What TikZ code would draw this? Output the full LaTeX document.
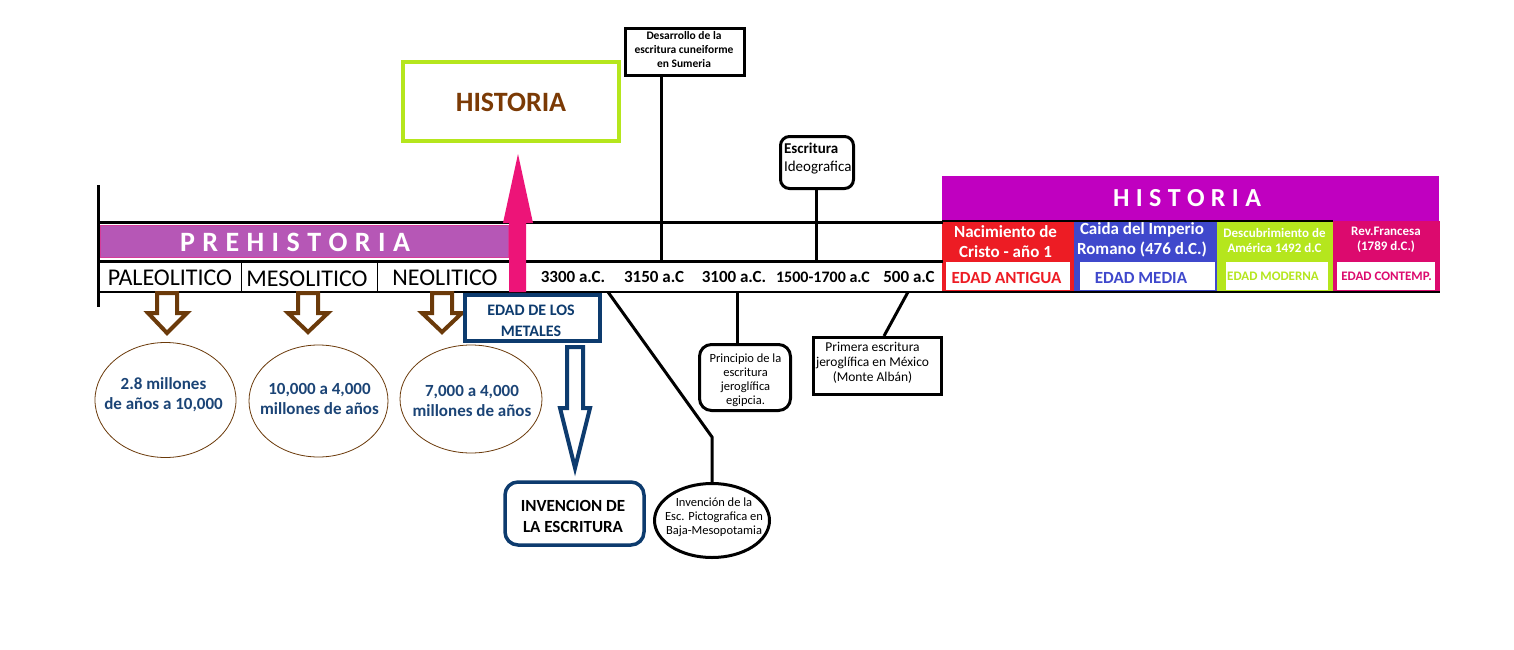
\documentclass[tikz,border=0pt]{standalone}
\usepackage{fontspec}
\setmainfont{Carlito}
\usetikzlibrary{shapes.geometric}
\definecolor{prepurple}{HTML}{B657B6}
\definecolor{prepink}{HTML}{D63C9A}
\definecolor{hotpink}{HTML}{ED1478}
\definecolor{lime}{HTML}{B5E61D}
\definecolor{histbrown}{HTML}{7B3A05}
\definecolor{magenta2}{HTML}{C000C0}
\definecolor{redc}{HTML}{ED1C24}
\definecolor{bluec}{HTML}{3F48CC}
\definecolor{crim}{HTML}{DC0A6E}
\definecolor{navy}{HTML}{0D3B6E}
\definecolor{ovaltext}{HTML}{1B4476}
\definecolor{arrbrown}{HTML}{6B3A0A}
\tikzset{
  every node/.style={inner sep=0pt, outer sep=0pt, align=center},
  tline/.style={line width=3pt},
  thinline/.style={line width=1pt},
  era/.style={font=\fontsize{24}{28}\selectfont},
  datelbl/.style={font=\bfseries\fontsize{17}{20}\selectfont},
  coltext/.style={font=\bfseries\fontsize{17}{20}\selectfont, text=white},
  coltextsm/.style={font=\bfseries\fontsize{13}{15.5}\selectfont, text=white},
  ovaltxt/.style={font=\bfseries\fontsize{17}{20}\selectfont, text=ovaltext},
  brownarrow/.style={draw=arrbrown, line width=4pt, fill=white},
  oval/.style={ellipse, draw=arrbrown, line width=0.8pt},
}
\begin{document}
\begin{tikzpicture}[x=1pt,y=-1pt]
\useasboundingbox (0,0) rectangle (1514,650);
\fill[white] (0,0) rectangle (1514,650);

% ---------- right HISTORIA block ----------
\node[fill=magenta2, minimum width=497pt, minimum height=45pt] (hist2) at (1190.5,198.5) {};
\node[font=\bfseries\fontsize{26}{30}\selectfont, text=white] (hist2t) at (1187,198) {\makebox[148pt][s]{H I S T O R I A}};
\node[fill=redc, minimum width=132pt, minimum height=71pt] (colA) at (1008,256.5) {};
\node[fill=bluec, minimum width=143pt, minimum height=71pt] (colB) at (1145.5,256.5) {};
\node[fill=lime, minimum width=116pt, minimum height=71pt] (colC) at (1275,256.5) {};
\node[fill=crim, minimum width=107pt, minimum height=71pt] (colD) at (1386.5,256.5) {};
\node[fill=white, minimum width=124pt, minimum height=28pt] (wA) at (1008,276) {};
\node[fill=white, minimum width=135pt, minimum height=28pt] (wB) at (1147.5,276) {};
\node[fill=white, minimum width=102pt, minimum height=28pt] (wC) at (1277,276) {};
\node[fill=white, minimum width=98pt, minimum height=28pt] (wD) at (1386,276) {};
\node[coltext] (tA) at (1005.5,242) {Nacimiento de\\Cristo - año 1};
\node[coltext] (tB) at (1142,240) {Caida del Imperio\\Romano (476 d.C.)};
\node[coltextsm] (tC) at (1274.5,240.5) {Descubrimiento de\\América 1492 d.C};
\node[coltextsm] (tD) at (1386,240) {Rev.Francesa\\(1789 d.C.)};
\node[font=\bfseries\fontsize{17}{20}\selectfont, text=redc] (eA) at (1006.5,278) {EDAD ANTIGUA};
\node[font=\bfseries\fontsize{17}{20}\selectfont, text=bluec] (eB) at (1141,278) {EDAD MEDIA};
\node[font=\bfseries\fontsize{13}{15}\selectfont, text=lime] (eC) at (1273,276) {EDAD MODERNA};
\node[font=\bfseries\fontsize{13}{15}\selectfont, text=crim] (eD) at (1386.5,276) {EDAD CONTEMP.};
\draw[line width=1.5pt] (colA.north west) -- (colC.north east);
\draw[line width=1.5pt] (colA.south west) -- (colD.south east);

% ---------- timeline frame ----------
\coordinate (v0) at (98,185);
\coordinate (v1) at (98,307);
\coordinate (h1a) at (98,222);
\coordinate (h1b) at (943,222);
\coordinate (h2a) at (98,261);
\coordinate (h2b) at (943,261);
\coordinate (h3a) at (98,292);
\coordinate (h3b) at (943,292);
\draw[tline] (v0) -- (v1);
\draw[tline] (h1a) -- (h1b);
\draw[tline] (h2a) -- (h2b);
\draw[line width=1.5pt] (h3a) -- (h3b);

% PREHISTORIA bar
\node[fill=prepurple, draw=prepink, line width=1pt, minimum width=408pt, minimum height=32pt] (pre) at (304.5,241.5) {};
\node[font=\bfseries\fontsize{28}{30}\selectfont, text=white] (pret) at (295,242) {\makebox[230pt][s]{P R E H I S T O R I A}};

% era cells
\coordinate (d1a) at (241,262); \coordinate (d1b) at (241,292);
\coordinate (d2a) at (377,262); \coordinate (d2b) at (377,292);
\draw[thinline] (d1a) -- (d1b);
\draw[thinline] (d2a) -- (d2b);
\node[era] (pal) at (170,278) {PALEOLITICO};
\node[era] (mes) at (307,279) {MESOLITICO};
\node[era] (neo) at (445,278) {NEOLITICO};

% dates
\node[datelbl] (d3300) at (573,277) {3300 a.C.};
\node[datelbl] (d3150) at (654,277) {3150 a.C};
\node[datelbl] (d3100) at (734,277) {3100 a.C.};
\node[font=\bfseries\fontsize{16}{20}\selectfont] (d1500) at (823,277) {1500-1700 a.C};
\node[datelbl] (d500) at (909,277) {500 a.C};

% pink arrow
\fill[hotpink] (509,292) -- (509,223) -- (503,223) -- (518,154) -- (533,223) -- (526,223) -- (526,292) -- cycle;

% HISTORIA green box
\node[draw=lime, line width=4pt, minimum width=216pt, minimum height=79pt] (hist1) at (511,101.5) {};
\node[font=\bfseries\fontsize{28}{32}\selectfont, text=histbrown] (hist1t) at (511,102) {HISTORIA};

% Desarrollo box
\node[draw, line width=3pt, minimum width=119pt, minimum height=47pt] (desa) at (685,52) {};
\node[font=\bfseries\fontsize{11.5}{14}\selectfont] (desat) at (684,49.5) {Desarrollo de la\\escritura cuneiforme\\en Sumeria};
\coordinate (t3150) at (661,261);
\draw[tline] (desa.south -| t3150) -- (t3150);

% Escritura Ideografica box
\node[draw, line width=3pt, rounded corners=9pt, minimum width=73pt, minimum height=52pt] (ideo) at (817,162.5) {};
\node[anchor=west, align=left, font=\fontsize{15}{18}\selectfont] (ideot) at (784,159) {\textbf{Escritura}\\Ideografica};
\coordinate (t1500) at (816,261);
\draw[tline] (ideo.south -| t1500) -- (t1500);

% brown hollow arrows
\draw[brownarrow] (157,293) -- (177,293) -- (177,313) -- (187,313) -- (167,333) -- (148,313) -- (157,313) -- cycle;
\draw[brownarrow] (298,293) -- (318,293) -- (318,313) -- (328,313) -- (308,332) -- (288,313) -- (298,313) -- cycle;
\draw[brownarrow] (432,293) -- (452,293) -- (452,313) -- (462,313) -- (442,332) -- (422,313) -- (432,313) -- cycle;

% ovals
\node[oval, minimum width=141pt, minimum height=115pt] (o1) at (165.5,400) {};
\node[ovaltxt] (o1t) at (163.5,395) {2.8 millones\\de años a 10,000};
\node[oval, minimum width=139pt, minimum height=112pt] (o2) at (318.5,401) {};
\node[ovaltxt] (o2t) at (319.5,399) {10,000 a 4,000\\millones de años};
\node[oval, minimum width=142pt, minimum height=108pt] (o3) at (471,399) {};
\node[ovaltxt] (o3t) at (472,400.5) {7,000 a 4,000\\millones de años};

% Edad de los metales
\node[draw=navy, line width=4pt, fill=white, minimum width=135pt, minimum height=46pt] (meta) at (532.5,318) {};
\node[font=\bfseries\fontsize{16}{21}\selectfont, text=navy] (metat) at (531,320.5) {EDAD DE LOS\\METALES};

% navy hollow arrow
\draw[draw=navy, line width=4pt, fill=white] (567,347) -- (583,347) -- (583,408) -- (590,408) -- (575,468) -- (560,408) -- (567,408) -- cycle;

% Invencion de la escritura
\node[draw=navy, line width=3.5pt, rounded corners=13pt, minimum width=139pt, minimum height=63pt] (inv) at (574.5,513.5) {};
\node[font=\bfseries\fontsize{17}{21}\selectfont] (invt) at (573,516.5) {INVENCION DE\\LA ESCRITURA};

% Pictografica
\node[ellipse, draw, line width=3pt, minimum width=115pt, minimum height=74pt] (pict) at (712,520.5) {};
\node[font=\fontsize{12.5}{14}\selectfont] (pictt) at (714,517) {Invención de la\\Esc. Pictografica en\\Baja-Mesopotamia};
\coordinate (t3300) at (608,292);
\coordinate (bend) at (712,437);
\draw[tline] (t3300) -- (bend) -- (pict.north);

% Principio jeroglifica egipcia
\node[draw, line width=3pt, rounded corners=12pt, minimum width=91pt, minimum height=66pt] (egip) at (745,377.5) {};
\node[font=\fontsize{12.5}{14}\selectfont] (egipt) at (745.5,380) {Principio de la\\escritura\\jeroglífica\\egipcia.};
\coordinate (t3100) at (737,292);
\draw[tline] (t3100) -- (egip.north -| t3100);

% Primera escritura Mexico
\node[draw, line width=3pt, minimum width=128pt, minimum height=57pt] (mex) at (877.5,366) {};
\node[font=\fontsize{13.5}{15}\selectfont] (mext) at (872.5,363) {Primera escritura\\jeroglífica en México\\(Monte Albán)};
\coordinate (t500) at (908,292);
\coordinate (mexin) at (884,336);
\draw[tline] (t500) -- (mexin);
\end{tikzpicture}
\end{document}
